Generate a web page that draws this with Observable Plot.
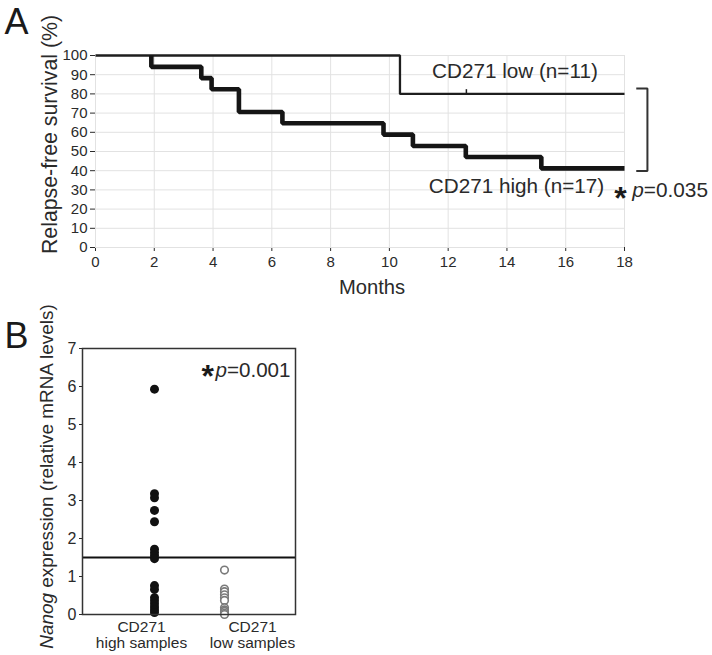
<!DOCTYPE html>
<html>
<head>
<meta charset="utf-8">
<script src="https://cdn.jsdelivr.net/npm/d3@7"></script>
<script src="https://cdn.jsdelivr.net/npm/@observablehq/plot@0.6"></script>
<style>
  html, body { margin: 0; padding: 0; background: #fff; }
  #wrap { position: relative; width: 712px; height: 655px; overflow: hidden; }
  #panelA, #panelB { position: absolute; left: 0; }
  #panelA { top: 0; }
  #panelB { top: 300px; }
  svg { overflow: visible; }
</style>
</head>
<body>
<div id="wrap"><div id="panelA"></div><div id="panelB"></div></div>
<script>
// ---------- Panel A data (Kaplan–Meier) ----------
const monthTicks = [0, 2, 4, 6, 8, 10, 12, 14, 16, 18];
const survivalTicks = [0, 10, 20, 30, 40, 50, 60, 70, 80, 90, 100];
const followUpEnd = 18;
// CD271 high (n=17): event times (months) and survival (%) after each step
const highTimes = [1.9, 3.6, 3.95, 4.88, 6.36, 9.8, 10.8, 12.6, 15.17];
const highSurvival = [94.1, 88.2, 82.4, 70.6, 64.7, 58.8, 52.9, 47.1, 41.2];
// CD271 low (n=11)
const lowTimes = [10.36];
const lowSurvival = [80];
const lowCensorTimes = [12.62];
const labelLow = "CD271 low (n=11)";
const labelHigh = "CD271 high (n=17)";
const pValueA = "p=0.035";

// ---------- Panel B data (Nanog expression) ----------
const groups = ["high", "low"];
const groupLabels = ["CD271\nhigh samples", "CD271\nlow samples"];
const nanogTicks = [0, 1, 2, 3, 4, 5, 6, 7];
const nanogHigh = [5.93, 3.18, 3.07, 2.74, 2.44, 1.72, 1.63, 1.55, 1.47, 0.76, 0.66, 0.44, 0.36, 0.28, 0.2, 0.12, 0.05];
const nanogLow = [1.17, 0.67, 0.6, 0.52, 0.44, 0.37, 0.18, 0.12, 0.08, 0.03, 0.0];
const cutoff = 1.5;
const pValueB = "p=0.001";

const font = '"Liberation Sans", Arial, Helvetica, sans-serif';

// ---------- build step data ----------
function kmPoints(times, surv) {
  const pts = [{t: times[0], s: 100}];
  times.forEach((t, i) => pts.push({t, s: surv[i]}));
  pts.push({t: followUpEnd, s: surv[surv.length - 1]});
  return pts;
}
const highPts = kmPoints(highTimes, highSurvival);
const lowPts = [{t: 0, s: 100}].concat(kmPoints(lowTimes, lowSurvival).slice(1));
const lastHigh = highSurvival[highSurvival.length - 1];
const lastLow = lowSurvival[lowSurvival.length - 1];
const bracket = [
  {t: followUpEnd + 0.4, s: lastLow + 2.8},
  {t: followUpEnd + 0.78, s: lastLow + 2.8},
  {t: followUpEnd + 0.78, s: lastHigh - 1.4},
  {t: followUpEnd + 0.4, s: lastHigh - 1.4}
];

const chartA = Plot.plot({
  width: 712, height: 300,
  marginLeft: 95, marginRight: 88, marginTop: 55, marginBottom: 53,
  style: {fontFamily: font, fontSize: "15px", color: "#2a2a2a", background: "transparent", overflow: "visible"},
  x: {domain: [0, followUpEnd], ticks: monthTicks, tickSize: 4, tickPadding: 5, line: true, label: null},
  y: {domain: [0, 100], ticks: survivalTicks, tickSize: 5, tickPadding: 3, line: true, label: null},
  marks: [
    Plot.ruleX(monthTicks, {stroke: "#e2e2e2", strokeWidth: 1}),
    Plot.ruleY(survivalTicks, {stroke: "#e2e2e2", strokeWidth: 1}),
    Plot.line(lowPts, {x: "t", y: "s", curve: "step-after", stroke: "#1e1e1e", strokeWidth: 2.3, strokeLinejoin: "miter", strokeLinecap: "butt"}),
    Plot.ruleX(lowCensorTimes, {x: d => d, y1: lastLow, y2: lastLow + 2.2, stroke: "#1e1e1e", strokeWidth: 1.5}),
    Plot.line(highPts, {x: "t", y: "s", curve: "step-after", stroke: "#151515", strokeWidth: 4.6, strokeLinejoin: "miter", strokeLinecap: "butt"}),
    Plot.line(bracket, {x: "t", y: "s", stroke: "#333", strokeWidth: 2, strokeLinejoin: "miter", strokeLinecap: "butt"}),
    Plot.text(["A"], {frameAnchor: "top-left", textAnchor: "start", lineAnchor: "bottom", dx: -91, dy: -22, fontSize: 36, fill: "#1a1a1a"}),
    Plot.text(["Relapse-free survival (%)"], {frameAnchor: "left", rotate: -90, textAnchor: "middle", lineAnchor: "middle", dx: -45, dy: -17, fontSize: 21.3, fill: "#2a2a2a"}),
    Plot.text(["Months"], {frameAnchor: "bottom", textAnchor: "middle", lineAnchor: "bottom", dx: 12, dy: 46, fontSize: 20.2, fill: "#2a2a2a"}),
    Plot.text([labelLow], {frameAnchor: "top-left", textAnchor: "start", lineAnchor: "bottom", dx: 336.5, dy: 22.7, fontSize: 20.7, fill: "#2a2a2a"}),
    Plot.text([labelHigh], {frameAnchor: "top-left", textAnchor: "start", lineAnchor: "bottom", dx: 333.3, dy: 137.3, fontSize: 20.7, fill: "#2a2a2a"}),
    Plot.text(["*"], {frameAnchor: "top-left", textAnchor: "middle", lineAnchor: "bottom", dx: 525, dy: 153, fontSize: 32, fontWeight: "bold", fill: "#1a1a1a"}),
    Plot.text([pValueA], {frameAnchor: "top-left", textAnchor: "start", lineAnchor: "bottom", dx: 536.7, dy: 141.5, fontSize: 20.8, fill: "#2a2a2a"})
  ]
});

const highRows = nanogHigh.map(v => ({g: groups[0], v}));
const lowRows = nanogLow.map(v => ({g: groups[1], v}));

const chartB = Plot.plot({
  width: 360, height: 355,
  marginLeft: 82, marginRight: 65, marginTop: 48, marginBottom: 41,
  style: {fontFamily: font, fontSize: "16px", color: "#2a2a2a", background: "transparent", overflow: "visible"},
  x: {type: "point", domain: groups, range: [141, 252], padding: 0, axis: null},
  y: {domain: [0, 7], ticks: nanogTicks, tickFormat: d3.format("d"), tickSize: 3, tickPadding: 3, label: null},
  marks: [
    Plot.ruleY([cutoff], {stroke: "#111", strokeWidth: 2}),
    Plot.dot(highRows, {x: "g", y: "v", r: 4.5, fill: "#111", stroke: "none", dx: 13}),
    Plot.dot(lowRows, {x: "g", y: "v", r: 3.8, fill: "white", stroke: "#7a7a7a", strokeWidth: 1.6, dx: -28}),
    Plot.frame({stroke: "#333", strokeWidth: 1.5}),
    Plot.text(groups, {x: d => d, text: (d, i) => groupLabels[i], frameAnchor: "bottom", lineAnchor: "top", lineHeight: 1.05, dy: 5.5, fontSize: 15.5, fill: "#2a2a2a"}),
    Plot.text(["B"], {frameAnchor: "top-left", textAnchor: "start", lineAnchor: "bottom", dx: -78, dy: -1, fontSize: 36, fill: "#1a1a1a"}),
    Plot.text(["Nanog expression (relative mRNA levels)"], {frameAnchor: "left", rotate: -90, textAnchor: "middle", lineAnchor: "middle", dx: -36, dy: -5, fontSize: 18.9, fill: "#2a2a2a"}),
    Plot.text(["*"], {frameAnchor: "top-right", textAnchor: "middle", lineAnchor: "bottom", dx: -87.7, dy: 38.8, fontSize: 32, fontWeight: "bold", fill: "#1a1a1a"}),
    Plot.text([pValueB], {frameAnchor: "top-right", textAnchor: "end", lineAnchor: "bottom", dx: -5, dy: 28.7, fontSize: 20.6, fill: "#2a2a2a"})
  ]
});

// italic parts (p, Nanog) as tspans
function italicize(svg) {
  d3.select(svg).selectAll("text").each(function() {
    if (this.querySelector("tspan")) return;
    const t = this.textContent;
    let head = null;
    if (t.startsWith("p=")) head = "p";
    else if (t.startsWith("Nanog ")) head = "Nanog";
    if (!head) return;
    const rest = t.slice(head.length);
    this.textContent = "";
    d3.select(this).append("tspan").attr("font-style", "italic").text(head);
    d3.select(this).append("tspan").text(rest);
  });
}
italicize(chartA);
italicize(chartB);

document.getElementById("panelA").appendChild(chartA);
document.getElementById("panelB").appendChild(chartB);
</script>
</body>
</html>
